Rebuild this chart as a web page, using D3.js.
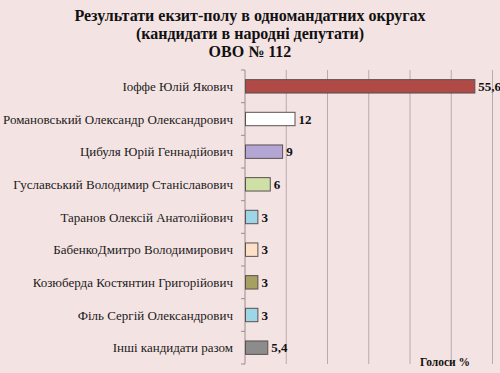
<!DOCTYPE html>
<html>
<head>
<meta charset="utf-8">
<script src="https://cdn.jsdelivr.net/npm/d3@7"></script>
<style>
  html, body { margin: 0; padding: 0; background: #f4e3e3; }
  svg { display: block; }
</style>
</head>
<body>
<div id="chart"></div>
<script>
const candidates = [
  'Іоффе Юлій Якович',
  'Романовський Олександр Олександрович',
  'Цибуля Юрій Геннадійович',
  'Гуславський Володимир Станіславович',
  'Таранов Олексій Анатолійович',
  'БабенкоДмитро Володимирович',
  'Козюберда Костянтин Григорійович',
  'Філь Сергій Олександрович',
  'Інші кандидати разом'
];
const votes = [55.6, 12, 9, 6, 3, 3, 3, 3, 5.4];
const valueLabels = ['55,6', '12', '9', '6', '3', '3', '3', '3', '5,4'];
const barColors = ['#b04a47', '#ffffff', '#b3a6d4', '#cfe0a6', '#9dd6e6', '#fde0c8', '#a6a062', '#9dd6e6', '#8c8c8c'];
const gridTicks = [10, 20, 30, 40, 50, 60];
const titleLines = ['Результати екзит-полу в одномандатних округах', '(кандидати в народні депутати)', 'ОВО № 112'];

function render(container) {
  const width = 500, height = 373;
  const margin = { top: 70, right: 7.5, bottom: 9, left: 245 };
  const W = width - margin.left - margin.right;
  const H = height - margin.top - margin.bottom;
  const serif = '"Liberation Serif", "Times New Roman", serif';

  const x = d3.scaleLinear().domain([0, 60]).range([0, W]);
  const y = d3.scaleBand().domain(candidates).range([0, H]).paddingInner(0.59).paddingOuter(0.295);

  const svg = d3.select(container).append('svg')
    .attr('width', width).attr('height', height);

  svg.append('rect').attr('width', width).attr('height', height).attr('fill', '#f4e3e3');

  // Title
  svg.append('g').selectAll('text').data(titleLines).join('text')
    .attr('x', 250).attr('y', (d, i) => 20.5 + i * 18.3)
    .attr('text-anchor', 'middle')
    .style('font-family', serif)
    .attr('font-size', '16px').attr('font-weight', '700').attr('fill', '#111')
    .text(d => d);

  const g = svg.append('g').attr('transform', `translate(${margin.left},${margin.top})`);

  // Gridlines
  g.append('g').selectAll('line').data(gridTicks).join('line')
    .attr('x1', d => x(d)).attr('x2', d => x(d))
    .attr('y1', 0).attr('y2', H)
    .attr('stroke', '#b9aaad').attr('stroke-width', 1);

  // Left axis with category labels
  const step = y.step();
  const boundaries = d3.range(candidates.length + 1).map(i => i * step);
  g.append('line').attr('x1', 0).attr('x2', 0).attr('y1', 0).attr('y2', H)
    .attr('stroke', '#9a8c8e').attr('stroke-width', 1);
  g.append('g').selectAll('line').data(boundaries).join('line')
    .attr('x1', -4).attr('x2', 0).attr('y1', d => d).attr('y2', d => d)
    .attr('stroke', '#9a8c8e').attr('stroke-width', 1);

  g.append('g').selectAll('text').data(candidates).join('text')
    .attr('x', -12).attr('y', d => y(d) + y.bandwidth() / 2)
    .attr('dy', '0.36em').attr('text-anchor', 'end')
    .style('font-family', serif)
    .attr('font-size', '13px').attr('fill', '#1a1a1a')
    .text(d => d);

  // Bars
  g.append('g').selectAll('rect').data(candidates).join('rect')
    .attr('x', 0.5).attr('y', d => y(d))
    .attr('width', (d, i) => x(votes[i]))
    .attr('height', y.bandwidth())
    .attr('fill', (d, i) => barColors[i])
    .attr('stroke', '#5a5050').attr('stroke-width', 1);

  // Value labels
  g.append('g').selectAll('text').data(candidates).join('text')
    .attr('x', (d, i) => x(votes[i]) + 4)
    .attr('y', d => y(d) + y.bandwidth() / 2)
    .attr('dy', '0.36em')
    .style('font-family', serif)
    .attr('font-size', '13px').attr('font-weight', '700').attr('fill', '#111')
    .text((d, i) => valueLabels[i]);

  // Axis title
  svg.append('text').attr('x', 445).attr('y', 366)
    .attr('text-anchor', 'middle')
    .style('font-family', serif)
    .attr('font-size', '11.5px').attr('font-weight', '700').attr('fill', '#111')
    .text('Голоси %');
}

render(document.getElementById('chart'));
</script>
</body>
</html>
